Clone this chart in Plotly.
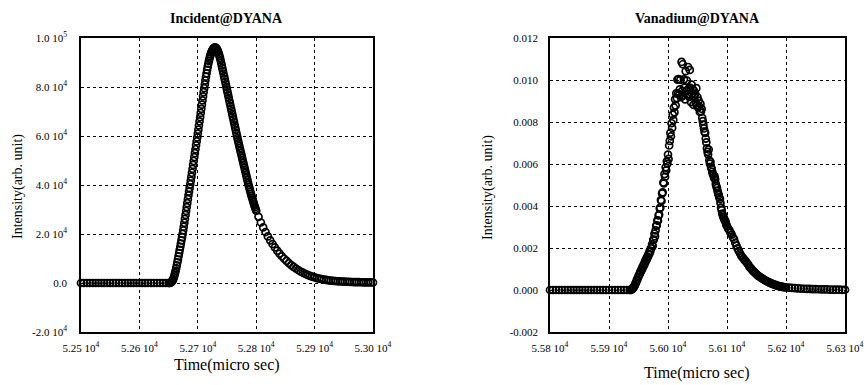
import plotly.graph_objects as go

# ---------------- Data: Incident@DYANA ----------------
# time grid segments (micro sec) and intensities
inc_t_flat = list(range(52500, 52651, 5))
inc_i_flat = [0] * len(inc_t_flat)

inc_t_peak = list(range(52651, 52801, 1))
inc_i_peak = [
    0, 0, 100, 200, 400, 700, 1100, 1600, 2300, 3100,
    4000, 5000, 6100, 7200, 8400, 9600, 10900, 12200, 13500, 14800,
    16100, 17400, 18700, 20000, 21500, 23000, 24600, 26200, 27800, 29400,
    31000, 32600, 34200, 35800, 37300, 38800, 40300, 41800, 43400, 45000,
    46600, 48200, 49800, 51400, 53000, 54600, 56200, 57800, 59400, 61000,
    62600, 64300, 66000, 67700, 69400, 71100, 72800, 74500, 76200, 77900,
    79500, 81100, 82700, 84200, 85600, 87000, 88300, 89500, 90600, 91600,
    92500, 93300, 94000, 94600, 95100, 95500, 95800, 96000, 96100, 96100,
    96000, 95800, 95400, 94900, 94300, 93600, 92800, 91900, 90900, 89900,
    88800, 87700, 86600, 85500, 84400, 83300, 82200, 81100, 80000, 78900,
    77800, 76700, 75600, 74500, 73400, 72300, 71200, 70100, 69000, 67900,
    66800, 65700, 64600, 63500, 62400, 61300, 60200, 59100, 58000, 57000,
    56000, 55000, 54000, 53000, 52000, 51000, 50000, 49000, 48000, 47000,
    46000, 45000, 44000, 43000, 42000, 41000, 40000, 39100, 38200, 37300,
    36400, 35600, 34800, 34000, 33200, 32400, 31600, 30900, 30200, 29500,
]

inc_t_tail = list(range(52804, 53001, 4))
inc_i_tail = [
    27000, 24700, 22700, 20800, 19000, 17400, 15900, 14500, 13200, 12000,
    10900, 9900, 9000, 8100, 7300, 6600, 5900, 5300, 4700, 4200,
    3700, 3300, 2900, 2600, 2300, 2000, 1800, 1600, 1400, 1250,
    1100, 1000, 900, 800, 700, 650, 600, 550, 500, 450,
    400, 380, 350, 320, 300, 280, 260, 240, 220, 200,
]

# ---------------- Data: Vanadium@DYANA (values in 1e-4) ----------------
van_t_flat = list(range(55800, 55936, 5))
van_i_flat = [0.0] * len(van_t_flat)

van_t_peak = list(range(55936, 56101, 1))
van_i_peak = [
    0.0, 0.2, 0.1, 0.5, 0.6, 1.1, 1.3, 2.0, 2.3, 3.3,
    3.6, 4.7, 4.9, 6.0, 6.3, 7.4, 7.5, 8.6, 8.7, 9.9,
    9.8, 11.1, 11.0, 12.2, 12.1, 13.6, 13.4, 14.8, 14.5, 15.9,
    15.7, 17.2, 17.0, 18.6, 18.3, 19.9, 20.0, 21.8, 21.0, 23.9,
    24.0, 26.8, 25.5, 28.4, 30.6, 30.8, 33.2, 33.0, 35.5, 35.9,
    38.9, 39.2, 42.8, 42.4, 46.0, 46.5, 51.2, 50.8, 55.2, 53.9,
    58.4, 57.0, 61.3, 60.2, 64.5, 62.4, 68.8, 71.0, 74.9, 73.2,
    79.4, 77.2, 83.5, 80.9, 86.9, 84.6, 90.8, 87.9, 93.6, 91.4,
    100.2, 93.5, 100.4, 93.0, 95.5, 100.1, 91.8, 108.6, 94.8, 107.5,
    92.6, 100.3, 96.4, 90.8, 104.2, 94.9, 99.7, 93.1, 106.2, 95.8,
    92.0, 104.8, 96.3, 89.5, 97.8, 93.4, 95.6, 88.2, 94.9, 91.7,
    93.5, 89.2, 96.1, 88.0, 91.8, 86.9, 90.2, 87.4, 84.8, 88.6,
    85.1, 86.3, 82.0, 80.4, 78.6, 76.9, 75.4, 74.8, 72.1, 70.3,
    67.5, 65.8, 64.6, 66.9, 61.8, 60.2, 61.0, 58.4, 57.7, 56.3,
    55.2, 54.8, 53.4, 54.1, 52.7, 50.5, 49.4, 48.6, 47.2, 46.0,
    45.2, 44.1, 43.3, 41.4, 39.2, 38.0, 36.4, 35.6, 34.7, 34.1,
    33.2, 32.9, 32.1, 31.0, 30.4,
]

van_t_tail = list(range(56102, 56201, 2))
van_i_tail = [
    29.2, 28.5, 27.3, 26.4, 25.1, 24.2, 22.5, 21.1, 19.8, 18.6,
    17.5, 16.4, 15.6, 15.0, 14.2, 13.6, 12.8, 12.1, 11.0, 10.5,
    9.8, 9.1, 8.6, 8.0, 7.5, 7.0, 6.6, 6.2, 5.8, 5.4,
    5.1, 4.7, 4.4, 4.1, 3.8, 3.5, 3.3, 3.0, 2.8, 2.6,
    2.4, 2.2, 2.0, 1.9, 1.7, 1.6, 1.5, 1.4, 1.3, 1.2,
]

van_t_end = list(range(56205, 56301, 5))
van_i_end = [1.1, 1.0, 0.9, 0.8, 0.7, 0.6, 0.55, 0.5, 0.45, 0.4,
             0.35, 0.3, 0.3, 0.25, 0.2, 0.2, 0.15, 0.15, 0.1, 0.1]

# ---------------- Tick labels ----------------
inc_xtickvals = [52500, 52600, 52700, 52800, 52900, 53000]
inc_xticktext = ["5.25 10<sup>4</sup>", "5.26 10<sup>4</sup>", "5.27 10<sup>4</sup>",
                 "5.28 10<sup>4</sup>", "5.29 10<sup>4</sup>", "5.30 10<sup>4</sup>"]
inc_ytickvals = [-20000, 0, 20000, 40000, 60000, 80000, 100000]
inc_yticktext = ["-2.0 10<sup>4</sup>", "0.0", "2.0 10<sup>4</sup>", "4.0 10<sup>4</sup>",
                 "6.0 10<sup>4</sup>", "8.0 10<sup>4</sup>", "1.0 10<sup>5</sup>"]

van_xtickvals = [55800, 55900, 56000, 56100, 56200, 56300]
van_xticktext = ["5.58 10<sup>4</sup>", "5.59 10<sup>4</sup>", "5.60 10<sup>4</sup>",
                 "5.61 10<sup>4</sup>", "5.62 10<sup>4</sup>", "5.63 10<sup>4</sup>"]
van_ytickvals = [-0.002, 0.0, 0.002, 0.004, 0.006, 0.008, 0.010, 0.012]
van_yticktext = ["-0.002", "0.000", "0.002", "0.004", "0.006", "0.008", "0.010", "0.012"]

# ---------------- Build figure ----------------
W, H = 864, 385
FONT = "Liberation Serif, Times New Roman, serif"

inc_t = inc_t_flat + inc_t_peak + inc_t_tail
inc_i = inc_i_flat + inc_i_peak + inc_i_tail
van_t = van_t_flat + van_t_peak + van_t_tail + van_t_end
van_i = [v * 1e-4 for v in (van_i_flat + van_i_peak + van_i_tail + van_i_end)]

marker = dict(symbol="circle-open", size=7, color="black", line=dict(width=1.7, color="black"))

fig = go.Figure()
fig.add_trace(go.Scatter(x=inc_t, y=inc_i, mode="markers", marker=marker,
                         xaxis="x", yaxis="y", showlegend=False, cliponaxis=False))
fig.add_trace(go.Scatter(x=van_t, y=van_i, mode="markers", marker=marker,
                         xaxis="x2", yaxis="y2", showlegend=False, cliponaxis=False))

def px_x(p):
    return p / W

def px_y(p):
    return 1 - p / H

ydom = [px_y(332), px_y(38)]
axis_common = dict(
    showline=True, mirror=True, linecolor="black", linewidth=1.5,
    showgrid=True, gridcolor="black", gridwidth=1, griddash="dot",
    zeroline=False, ticks="", tickfont=dict(family=FONT, size=11, color="black"),
    tickmode="array", automargin=False,
)

fig.update_layout(
    width=W, height=H, autosize=False,
    margin=dict(l=0, r=0, t=0, b=0, pad=0, autoexpand=False),
    paper_bgcolor="white", plot_bgcolor="white",
    font=dict(family=FONT, color="black"),
    xaxis=dict(domain=[px_x(81), px_x(373)], range=[52500, 53000], ticklabelstandoff=5,
               tickvals=inc_xtickvals, ticktext=inc_xticktext, anchor="y", **axis_common),
    yaxis=dict(domain=ydom, range=[-20000, 100000], ticklabelstandoff=10,
               tickvals=inc_ytickvals, ticktext=inc_yticktext, anchor="x", **axis_common),
    xaxis2=dict(domain=[px_x(550), px_x(845)], range=[55800, 56300], ticklabelstandoff=5,
                tickvals=van_xtickvals, ticktext=van_xticktext, anchor="y2", **axis_common),
    yaxis2=dict(domain=ydom, range=[-0.002, 0.012], ticklabelstandoff=8,
                tickvals=van_ytickvals, ticktext=van_yticktext, anchor="x2", **axis_common),
)

def ann(text, x, y, size, bold=False, angle=0):
    fig.add_annotation(
        text=f"<b>{text}</b>" if bold else text,
        x=px_x(x), y=px_y(y), xref="paper", yref="paper",
        showarrow=False, textangle=angle, xanchor="center", yanchor="middle",
        font=dict(family=FONT, size=size, color="black"),
    )

ann("Incident@DYANA", 227, 18, 14, bold=True)
ann("Vanadium@DYANA", 697, 18, 14, bold=True)
ann("Time(micro sec)", 227, 365, 16)
ann("Time(micro sec)", 697, 373, 16)
ann("Intensity(arb. unit)", 18, 187, 14, angle=-90)
ann("Intensity(arb. unit)", 488, 187, 14, angle=-90)

fig.write_html("out.html")
